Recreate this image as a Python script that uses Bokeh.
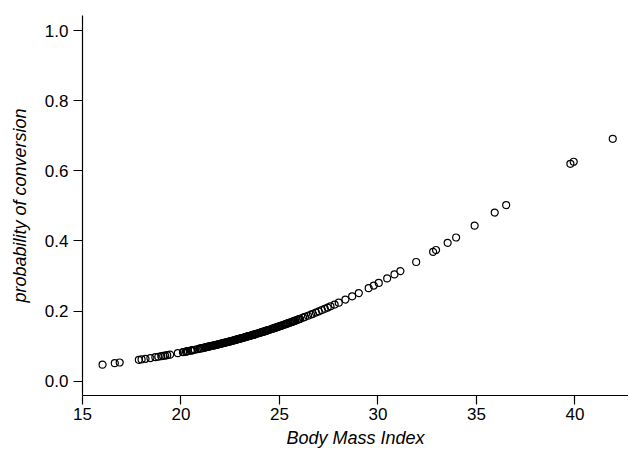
from bokeh.plotting import figure
from bokeh.models import FixedTicker, PrintfTickFormatter, Range1d, ColumnDataSource
from bokeh.embed import file_html
from bokeh.resources import INLINE

# Body Mass Index of each subject
bmi = [16.02, 16.64, 16.89,
       17.86, 18.0, 18.2, 18.45, 18.7, 18.85, 19.0, 19.1, 19.2, 19.3, 19.45,
       19.84, 20.1, 20.25, 20.35, 20.5, 20.6, 20.7, 20.85, 20.95, 21.05, 21.2,
       21.3, 21.4, 21.5, 21.6, 21.7, 21.8, 21.9, 22.0, 22.1, 22.2, 22.3, 22.4,
       22.5, 22.6, 22.7, 22.8, 22.9, 23.0, 23.1, 23.2, 23.3, 23.4, 23.5, 23.6,
       23.7, 23.8, 23.95, 24.05, 24.15, 24.25, 24.35, 24.45, 24.6, 24.7, 24.8,
       24.9, 25.0, 25.1, 25.25, 25.35, 25.45, 25.6, 25.7, 25.8, 25.95, 26.05,
       26.2, 26.3, 26.45, 26.6, 26.7, 26.85, 27.0, 27.15, 27.3, 27.45,
       27.59, 27.8, 28.01, 28.35, 28.69, 29.03, 29.53, 29.79, 30.04, 30.47,
       30.84, 31.14, 31.94, 32.80, 32.95, 33.54, 33.97, 34.91, 35.93, 36.51,
       39.77, 39.94, 41.92]

# predicted probability of conversion
prob = [0.0470, 0.0513, 0.0531,
        0.0607, 0.0620, 0.0637, 0.0659, 0.0682, 0.0696, 0.0711, 0.0720, 0.0730, 0.0740, 0.0756,
        0.0797, 0.0825, 0.0842, 0.0854, 0.0871, 0.0883, 0.0895, 0.0913, 0.0925, 0.0938, 0.0957,
        0.0969, 0.0982, 0.0996, 0.1009, 0.1022, 0.1036, 0.1050, 0.1064, 0.1078, 0.1092, 0.1106, 0.1121,
        0.1136, 0.1150, 0.1166, 0.1181, 0.1196, 0.1212, 0.1228, 0.1244, 0.1260, 0.1276, 0.1293, 0.1309,
        0.1326, 0.1343, 0.1369, 0.1387, 0.1404, 0.1422, 0.1440, 0.1459, 0.1486, 0.1505, 0.1524,
        0.1543, 0.1562, 0.1582, 0.1611, 0.1632, 0.1652, 0.1682, 0.1703, 0.1724, 0.1756, 0.1777,
        0.1810, 0.1832, 0.1865, 0.1899, 0.1921, 0.1956, 0.1991, 0.2027, 0.2062, 0.2099,
        0.2133, 0.2185, 0.2239, 0.2327, 0.2418, 0.2511, 0.2652, 0.2727, 0.2801, 0.2930,
        0.3044, 0.3139, 0.3398, 0.3688, 0.3740, 0.3945, 0.4097, 0.4435, 0.4809, 0.5022,
        0.6199, 0.6258, 0.6912]

# further subjects in the crowded middle band
bmi_dense = [20.15, 20.3, 20.55, 21.0, 21.125, 21.25, 21.35, 21.45, 21.55, 21.65,
             21.75, 21.85, 21.95, 22.05, 22.15, 22.25, 22.35, 22.45, 22.55, 22.65,
             22.75, 22.85, 22.95, 23.05, 23.15, 23.25, 23.35, 23.45, 23.55, 23.65,
             23.75, 23.875, 24.0, 24.1, 24.2, 24.3, 24.4, 24.525, 24.65, 24.75,
             24.85, 24.95, 25.05, 25.175, 25.3, 25.4, 25.525, 25.65, 25.75, 25.875,
             26.0]
prob_dense = [0.0831, 0.0848, 0.0877, 0.0932, 0.0948, 0.0963, 0.0976, 0.0989, 0.1003, 0.1016,
              0.1029, 0.1043, 0.1057, 0.1071, 0.1085, 0.1099, 0.1114, 0.1129, 0.1143, 0.1158,
              0.1174, 0.1189, 0.1204, 0.1220, 0.1236, 0.1252, 0.1268, 0.1285, 0.1301, 0.1318,
              0.1335, 0.1356, 0.1378, 0.1396, 0.1413, 0.1431, 0.1450, 0.1473, 0.1496, 0.1515,
              0.1534, 0.1553, 0.1572, 0.1597, 0.1622, 0.1642, 0.1667, 0.1693, 0.1714, 0.1740,
              0.1767]

x_ticks = [15, 20, 25, 30, 35, 40]
y_ticks = [0.0, 0.2, 0.4, 0.6, 0.8, 1.0]

FONT = "Liberation Sans"

p = figure(width=628, height=450, output_backend="svg", toolbar_location=None,
           x_range=Range1d(15, 42.72), y_range=Range1d(-0.041, 1.043),
           min_border_left=82, min_border_right=0, min_border_top=15, min_border_bottom=53)
p.outline_line_color = None
p.xgrid.visible = False
p.ygrid.visible = False
p.background_fill_color = "white"
p.border_fill_color = "white"

src = ColumnDataSource(dict(x=bmi + bmi_dense, y=prob + prob_dense))
p.scatter("x", "y", source=src, marker="circle", size=7, fill_color=None,
          line_color="black", line_width=1.2)

for ax in (p.xaxis[0], p.yaxis[0]):
    ax.axis_line_color = "black"
    ax.axis_line_width = 1.2
    ax.major_tick_line_color = "black"
    ax.major_tick_line_width = 1.2
    ax.major_tick_out = 9
    ax.major_tick_in = 0
    ax.minor_tick_line_color = None
    ax.major_label_text_font = FONT
    ax.major_label_text_font_size = "17px"
    ax.major_label_text_color = "black"
    ax.axis_label_text_font = FONT
    ax.axis_label_text_font_size = "18px"
    ax.axis_label_text_font_style = "italic"
    ax.axis_label_text_color = "black"

p.xaxis[0].ticker = FixedTicker(ticks=x_ticks)
p.yaxis[0].ticker = FixedTicker(ticks=y_ticks)
p.yaxis[0].formatter = PrintfTickFormatter(format="%.1f")
p.xaxis[0].axis_label = "Body Mass Index"
p.yaxis[0].axis_label = "probability of conversion"
p.xaxis[0].major_label_standoff = 3
p.yaxis[0].major_label_standoff = 5
p.xaxis[0].axis_label_standoff = 5
p.yaxis[0].axis_label_standoff = 12

open("out.html", "w").write(file_html(p, INLINE))
